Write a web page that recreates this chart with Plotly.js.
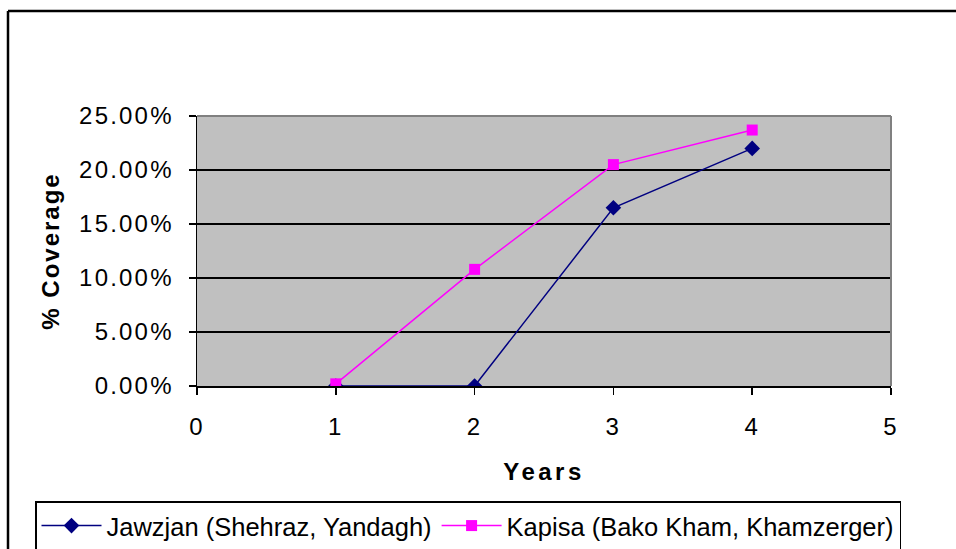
<!DOCTYPE html>
<html>
<head>
<meta charset="utf-8">
<script src="https://cdn.plot.ly/plotly-3.0.1.min.js"></script>
<style>
html, body { margin: 0; padding: 0; background: #ffffff; }
#chart { width: 956px; height: 549px; }
#chart .xtick text, #chart .ytick text { letter-spacing: 2.2px; }
#chart .g-xtitle text { letter-spacing: 3.5px; }
#chart .g-ytitle text { letter-spacing: 2px; }
</style>
</head>
<body>
<div id="chart"></div>
<script>
// Data
const years = [1, 2, 3, 4];
const jawzjanName = "Jawzjan (Shehraz, Yandagh)";
const jawzjanValues = [0.0, 0.0, 0.165, 0.220];
const kapisaName = "Kapisa (Bako Kham, Khamzerger)";
const kapisaValues = [0.002, 0.108, 0.205, 0.237];
const xTitle = "Years";
const yTitle = "% Coverage";

// Layout geometry (pixels)
const W = 956, H = 549;
const plotL = 197, plotR = 891, plotT = 116, plotB = 386;
const pw = plotR - plotL, ph = plotB - plotT;
const px = v => (v - plotL) / pw;
const py = v => (plotB - v) / ph;

const FONT = "Liberation Sans, Arial, sans-serif";

const traces = [
  {
    x: years, y: jawzjanValues, name: jawzjanName,
    type: "scatter", mode: "lines+markers",
    line: { color: "#000080", width: 1.5 },
    marker: { symbol: "diamond", size: 12, color: "#000080" }
  },
  {
    x: years, y: kapisaValues, name: kapisaName,
    type: "scatter", mode: "lines+markers",
    line: { color: "#FF00FF", width: 1.5 },
    marker: { symbol: "square", size: 11, color: "#FF00FF" }
  }
];

const layout = {
  width: W, height: H,
  margin: { l: plotL, r: W - plotR, t: plotT, b: H - plotB, pad: 0, autoexpand: false },
  paper_bgcolor: "#ffffff",
  plot_bgcolor: "#C0C0C0",
  font: { family: FONT, size: 24, color: "#000000" },
  showlegend: true,
  legend: {
    orientation: "h",
    xref: "paper", yref: "paper",
    x: px(35), y: py(501), xanchor: "left", yanchor: "top",
    bgcolor: "#ffffff", bordercolor: "#000000", borderwidth: 1.5,
    font: { family: FONT, size: 25.5, color: "#000000" },
    itemwidth: 60,
    itemclick: false, itemdoubleclick: false
  },
  xaxis: {
    range: [0, 5], dtick: 1, tick0: 0,
    showgrid: false, zeroline: false,
    showline: true, linecolor: "#000000", linewidth: 1.5,
    ticks: "outside", ticklen: 7, tickwidth: 1.5, tickcolor: "#000000",
    tickfont: { family: FONT, size: 24, color: "#000000" },
    ticklabelstandoff: 12,
    title: { text: "<b>" + xTitle + "</b>", font: { family: FONT, size: 24, color: "#000000" }, standoff: 24 },
    fixedrange: true
  },
  yaxis: {
    range: [0, 0.25], dtick: 0.05, tick0: 0,
    tickformat: ".2%",
    showgrid: true, gridcolor: "#000000", gridwidth: 1.5,
    zeroline: false,
    showline: true, linecolor: "#000000", linewidth: 1.5,
    ticks: "outside", ticklen: 7, tickwidth: 1.5, tickcolor: "#000000",
    tickfont: { family: FONT, size: 24, color: "#000000" },
    ticklabelstandoff: 10,
    title: { text: "<b>" + yTitle + "</b>", font: { family: FONT, size: 24, color: "#000000" }, standoff: 26 },
    fixedrange: true
  },
  shapes: [
    // plot area border (top and right) in gray
    { type: "line", xref: "paper", yref: "paper", x0: 0, x1: 1, y0: 1, y1: 1, line: { color: "#808080", width: 2 } },
    { type: "line", xref: "paper", yref: "paper", x0: 1, x1: 1, y0: 0, y1: 1, line: { color: "#808080", width: 2 } },
    // outer chart frame (left and top edges visible)
    { type: "line", xref: "paper", yref: "paper", x0: px(8), x1: px(8), y0: py(549), y1: py(11), line: { color: "#000000", width: 2.5 } },
    { type: "line", xref: "paper", yref: "paper", x0: px(8), x1: px(960), y0: py(11), y1: py(11), line: { color: "#000000", width: 2.5 } }
  ]
};

Plotly.newPlot("chart", traces, layout, { staticPlot: true, displayModeBar: false });
</script>
</body>
</html>
